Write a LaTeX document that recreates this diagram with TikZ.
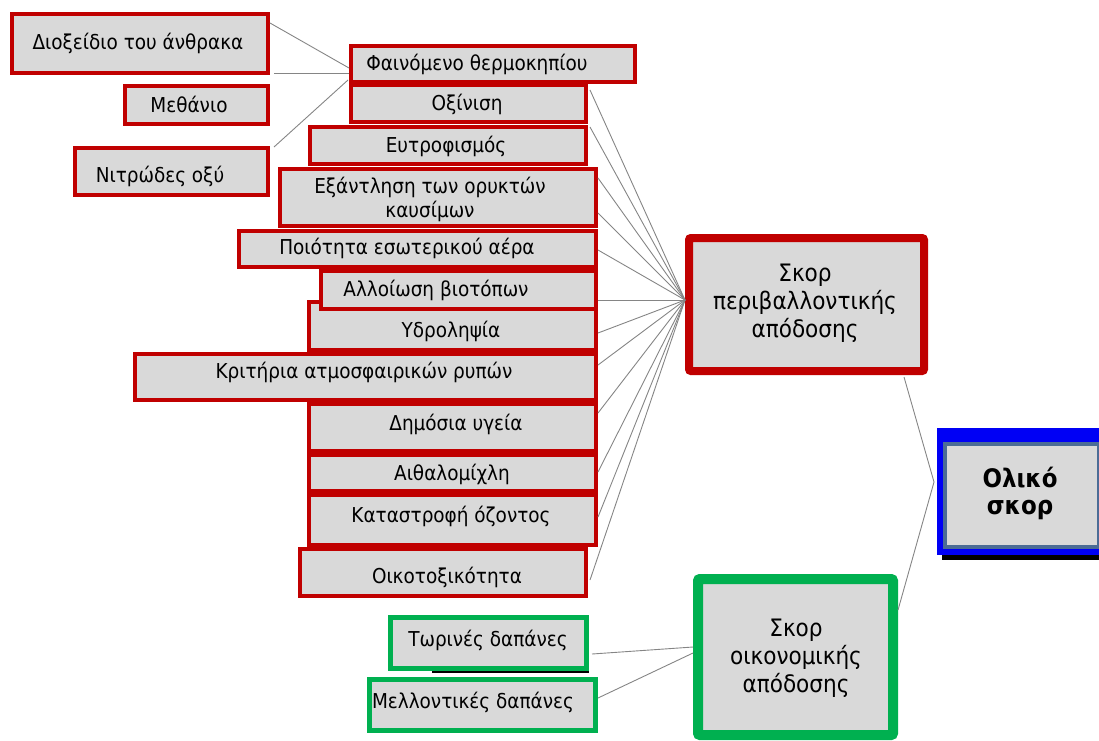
\documentclass[tikz,border=0pt]{standalone}
\usepackage{fontspec}
\setmainfont{DejaVu Sans Condensed}[BoldFont={DejaVu Sans Condensed Bold}]
\usetikzlibrary{calc,backgrounds}

\definecolor{impactred}{HTML}{C00000}
\definecolor{costgreen}{HTML}{00B050}
\definecolor{boxgray}{HTML}{D9D9D9}
\definecolor{linkgray}{HTML}{858585}
\definecolor{slateframe}{HTML}{4B6C96}
\definecolor{totalblue}{HTML}{0000F5}

\begin{document}
\begin{tikzpicture}[x=1pt,y=-1pt,
  every node/.style={outer sep=0pt, inner sep=0pt},
  box/.style={rectangle, fill=boxgray},
  redbox/.style={box, draw=impactred, line width=4pt},
  greenbox/.style={box, draw=costgreen, line width=5pt},
  scorebox/.style={box, line width=8pt, rounded corners=2pt},
  lab/.style={font=\fontsize{20.5}{24}\selectfont, align=center},
  biglab/.style={font=\fontsize{24}{28}\selectfont, align=center},
  totlab/.style={font=\bfseries\fontsize{25.5}{27}\selectfont, align=center},
  link/.style={draw=linkgray, line width=0.9pt}
]
\useasboundingbox (0,0) rectangle (1099,740);
\clip (0,0) rectangle (1099,740);

% greenhouse gases
\node[redbox, minimum width=256, minimum height=59] (co2) at (140,43.5) {};
\node[lab] (co2t) at (138,43) {Διοξείδιο του άνθρακα};
\node[redbox, minimum width=143, minimum height=38] (ch4) at (196.5,105) {};
\node[lab] (ch4t) at (189,104.5) {Μεθάνιο};
\node[redbox, minimum width=193, minimum height=47] (n2o) at (171.5,171.5) {};
\node[lab] (n2ot) at (160,176) {Νιτρώδες οξύ};

% environmental impact categories
\node[redbox, minimum width=284, minimum height=36] (ghe) at (493,64) {};
\node[lab] (ghet) at (477,64) {Φαινόμενο θερμοκηπίου};
\node[redbox, minimum width=235, minimum height=37] (acid) at (468.5,103.5) {};
\node[lab] (acidt) at (467,104.5) {Οξίνιση};
\node[redbox, minimum width=276, minimum height=37] (eutro) at (448,145.5) {};
\node[lab] (eutrot) at (446,146) {Ευτροφισμός};
\node[redbox, minimum width=316, minimum height=57] (fossil) at (438,197.5) {};
\node[lab] (fossilt) at (430,199) {Εξάντληση των ορυκτών\\καυσίμων};
\node[redbox, minimum width=357, minimum height=36] (iaq) at (417.5,249) {};
\node[lab] (iaqt) at (407,248.5) {Ποιότητα εσωτερικού αέρα};
\node[redbox, minimum width=287, minimum height=48] (water) at (452.5,326) {};
\node[lab] (watert) at (451,331) {Υδροληψία};
\node[redbox, minimum width=275, minimum height=38] (habitat) at (458.5,290) {};
\node[lab] (habitatt) at (436,290) {Αλλοίωση βιοτόπων};
\node[redbox, minimum width=461, minimum height=46] (criteria) at (365.5,377) {};
\node[lab] (criteriat) at (364,372) {Κριτήρια ατμοσφαιρικών ρυπών};
\node[redbox, minimum width=287, minimum height=47] (health) at (452.5,427.5) {};
\node[lab] (healtht) at (456,424) {Δημόσια υγεία};
\node[redbox, minimum width=287, minimum height=36] (smog) at (452.5,473) {};
\node[lab] (smogt) at (452,474) {Αιθαλομίχλη};
\node[redbox, minimum width=287, minimum height=50] (ozone) at (452.5,520) {};
\node[lab] (ozonet) at (451,516) {Καταστροφή όζοντος};
\node[redbox, minimum width=286, minimum height=47] (ecotox) at (443,572.5) {};
\node[lab] (ecotoxt) at (447,577) {Οικοτοξικότητα};

% cost items
\draw[black, line width=2.5pt] (432,671.5) -- (589,671.5);
\node[greenbox, minimum width=196, minimum height=51] (now) at (488.5,643) {};
\node[lab] (nowt) at (488,640) {Τωρινές δαπάνες};
\node[greenbox, minimum width=226, minimum height=51] (future) at (482.5,705) {};
\node[lab] (futuret) at (473,702) {Μελλοντικές δαπάνες};

% scores
\node[scorebox, draw=impactred, minimum width=235, minimum height=133] (env) at (806.5,304.5) {};
\node[biglab] (envt) at (805,303) {Σκορ\\περιβαλλοντικής\\απόδοσης};
\node[scorebox, draw=costgreen, line width=10pt, minimum width=195, minimum height=156] (econ) at (795.5,657) {};
\node[biglab] (econt) at (796,658) {Σκορ\\οικονομικής\\απόδοσης};

% total score with its blue frame and shadow
\node[box, draw=slateframe, line width=4pt, minimum width=154, minimum height=102.5] (total) at (1022,495.25) {};
\begin{scope}[on background layer]
  \fill[black] ([shift={(-3,-11)}]total.north west) rectangle ([shift={(11,13)}]total.south east);
  \fill[totalblue] ([shift={(-8,-16)}]total.north west) rectangle ([shift={(11,8.5)}]total.south east);
\end{scope}
\node[totlab] (totalt) at (1020,493) {Ολικό\\σκορ};

% connectors: gases to greenhouse effect
\draw[link] ([shift={(2,-20.5)}]co2.east) -- ([shift={(-2,4)}]ghe.west);
\draw[link] ([shift={(6,-32)}]ch4.east) -- ([shift={(-2,9)}]ghe.west);
\draw[link] ([shift={(6,-24.5)}]n2o.east) -- ([shift={(-3,16)}]ghe.west);

% connectors: impact categories to environmental score
\foreach \src/\dx/\dy in {ghe/-45/26, acid/4/23.5, eutro/12/32.5, fossil/2/15.5,
    iaq/2/1, habitat/2/10, water/2/7, criteria/2/-12, health/2/-14.5,
    smog/2/-1, ozone/2/-3, ecotox/4/7.5}
  \draw[link] ([shift={(\dx,\dy)}]\src.east) -- ([shift={(-4,-4.5)}]env.west);

% connectors: costs to economic score
\draw[link] ([shift={(5.5,11)}]now.east) -- ([shift={(-5,-10)}]econ.west);
\draw[link] ([shift={(2.5,-7)}]future.east) -- ([shift={(-5,-4)}]econ.west);

% connectors: scores to total
\draw[link] ([shift={(-20,6)}]env.south east) -- ([shift={(-11,-13.25)}]total.west);
\draw[link] ([shift={(5,31)}]econ.north east) -- ([shift={(-11,-13.25)}]total.west);
\end{tikzpicture}
\end{document}
